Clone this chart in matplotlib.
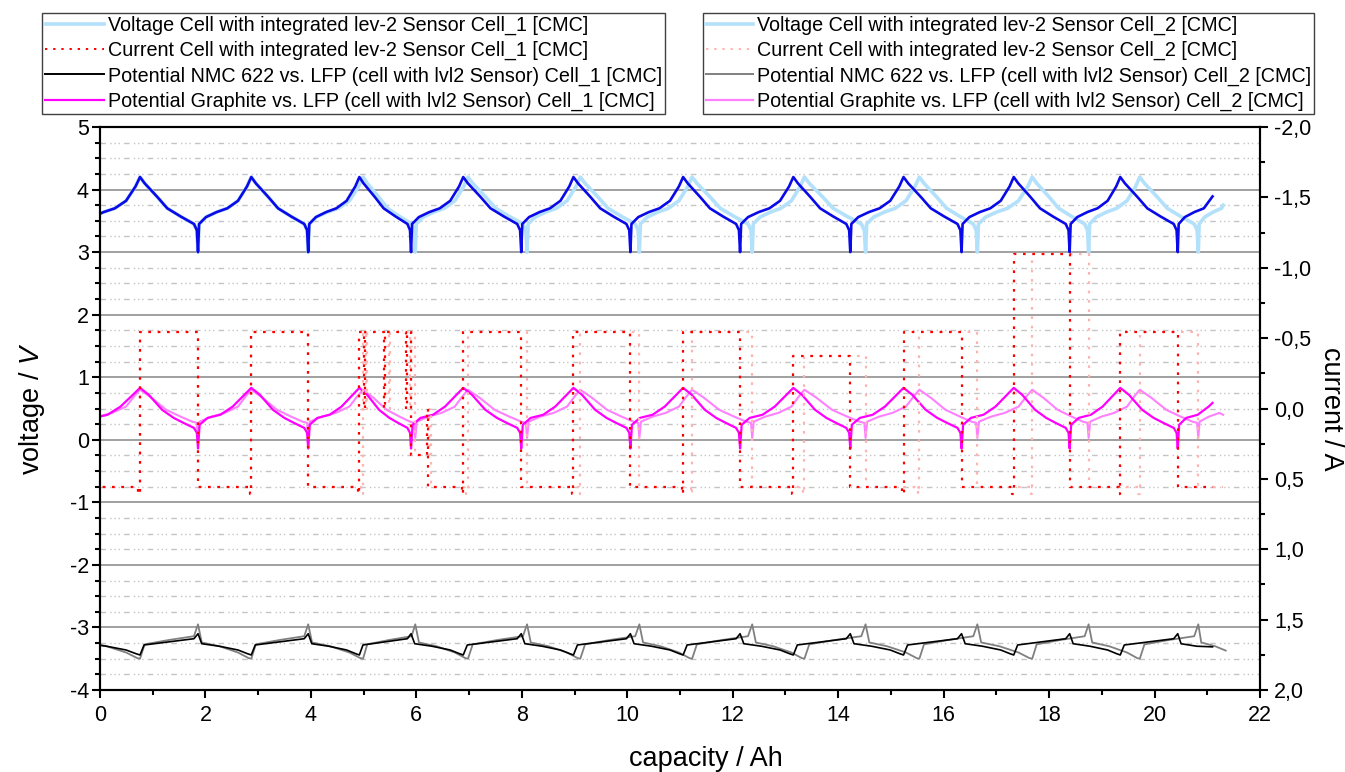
import matplotlib
matplotlib.use('Agg')
import matplotlib.pyplot as plt
from matplotlib.lines import Line2D
from matplotlib.ticker import MultipleLocator, FuncFormatter

plt.rcParams['font.family'] = ['Liberation Sans', 'DejaVu Sans']
plt.rcParams['mathtext.fontset'] = 'custom'
plt.rcParams['mathtext.rm'] = 'Liberation Sans'
plt.rcParams['mathtext.it'] = 'Liberation Sans:italic'
plt.rcParams['axes.unicode_minus'] = False

# turning points of the cycles (Ah): end of charge (4.2 V) and end of discharge (3.0 V)
peaks_c1 = [0.76, 2.87, 4.92, 6.89, 8.98, 11.06, 13.15, 15.24, 17.33, 19.35]
drops_c1 = [1.86, 3.95, 5.90, 7.99, 10.06, 12.14, 14.23, 16.34, 18.39, 20.44]
peaks_c2 = [0.76, 2.87, 4.99, 6.98, 9.11, 11.23, 13.36, 15.54, 17.68, 19.72]
drops_c2 = [1.86, 3.95, 5.98, 8.10, 10.23, 12.37, 14.52, 16.64, 18.75, 20.83]

# shape of a half cycle, s = fraction of the half cycle
volt_ch_s = [0, 0.02, 0.15, 0.35, 0.55, 0.75, 0.92, 1.0]
volt_ch_v = [3.0, 3.45, 3.56, 3.64, 3.70, 3.82, 4.05, 4.2]
volt_dis_s = [0, 0.08, 0.3, 0.47, 0.7, 0.93, 0.98, 1.0]
volt_dis_v = [4.2, 4.1, 3.88, 3.70, 3.57, 3.45, 3.35, 3.0]

gr1_ch_s = [0, 0.03, 0.18, 0.42, 0.65, 0.85, 1.0]
gr1_ch_v = [-0.14, 0.24, 0.35, 0.40, 0.53, 0.70, 0.83]
gr1_dis_s = [0, 0.15, 0.38, 0.58, 0.75, 0.93, 0.98, 1.0]
gr1_dis_v = [0.83, 0.72, 0.48, 0.35, 0.27, 0.19, 0.11, -0.14]

gr2_ch_s = [0, 0.03, 0.25, 0.5, 0.75, 0.9, 1.0]
gr2_ch_v = [0.03, 0.29, 0.37, 0.43, 0.53, 0.70, 0.80]
gr2_dis_s = [0, 0.2, 0.45, 0.7, 0.9, 0.98, 1.0]
gr2_dis_v = [0.80, 0.67, 0.48, 0.37, 0.29, 0.27, 0.03]

nmc1_ch_s = [0, 0.07, 0.4, 0.75, 0.93, 1.0]
nmc1_ch_v = [-3.10, -3.26, -3.30, -3.36, -3.42, -3.44]
nmc1_dis_s = [0, 0.07, 0.5, 0.93, 1.0]
nmc1_dis_v = [-3.44, -3.28, -3.23, -3.18, -3.10]

nmc2_ch_s = [0, 0.07, 0.4, 0.75, 0.95, 1.0]
nmc2_ch_v = [-2.95, -3.24, -3.30, -3.40, -3.49, -3.50]
nmc2_dis_s = [0, 0.08, 0.5, 0.93, 1.0]
nmc2_dis_v = [-3.50, -3.27, -3.20, -3.14, -2.95]

# current steps (start of step in Ah, current in A)
cur1_x = [-0.3, 0.73, 0.76, 1.86, 2.84, 2.87, 3.95, 4.89, 4.92, 5.01, 5.03, 5.39, 5.41,
          5.81, 5.83, 5.90, 6.20, 6.23, 6.86, 6.89, 7.99, 8.95, 8.98, 10.06, 11.03, 11.06,
          12.14, 13.12, 13.15, 14.23, 15.21, 15.24, 16.34, 17.30, 17.33, 18.39, 19.32,
          19.35, 20.44, 21.10]
cur1_i = [0.555, 0.61, -0.545, 0.555, 0.61, -0.545, 0.555, 0.61, -0.545, 0.0, -0.545, 0.0,
          -0.545, 0.0, -0.545, 0.33, 0.0, 0.555, 0.61, -0.545, 0.555, 0.61, -0.545, 0.555,
          0.61, -0.545, 0.555, 0.61, -0.37, 0.555, 0.61, -0.545, 0.555, 0.61, -1.10, 0.555,
          0.61, -0.545, 0.555, 0.555]
cur2_x = [-0.3, 0.73, 0.76, 1.86, 2.84, 2.87, 3.95, 4.96, 4.99, 5.05, 5.07, 5.49, 5.51,
          5.88, 5.90, 5.98, 6.24, 6.27, 6.95, 6.98, 8.10, 9.08, 9.11, 10.23, 11.20, 11.23,
          12.37, 13.33, 13.36, 14.52, 15.51, 15.54, 16.64, 17.65, 17.68, 18.75, 19.69,
          19.72, 20.83, 21.30]
cur2_i = cur1_i

fig = plt.figure(figsize=(13.45, 7.72), dpi=100)
ax = fig.add_axes([0.0743, 0.1062, 0.8625, 0.7293])
ax2 = ax.twinx()


def build(peaks, drops, ch_s, ch_v, dis_s, dis_v, last_len, end_x, end_v):
    xs, ys = [], []
    prev = -0.3
    for p, d in zip(peaks, drops):
        for s, v in zip(ch_s, ch_v):
            xs.append(prev + s * (p - prev))
            ys.append(v)
        for s, v in zip(dis_s, dis_v):
            xs.append(p + s * (d - p))
            ys.append(v)
        prev = d
    for s, v in zip(ch_s, ch_v):
        if prev + s * last_len < end_x:
            xs.append(prev + s * last_len)
            ys.append(v)
    xs.append(end_x)
    ys.append(end_v)
    return xs, ys


x, y = build(peaks_c2, drops_c2, volt_ch_s, volt_ch_v, volt_dis_s, volt_dis_v, 0.8, 21.3, 3.75)
ax.plot(x, y, color='#b3e0fa', lw=2.6)
x, y = build(peaks_c1, drops_c1, volt_ch_s, volt_ch_v, volt_dis_s, volt_dis_v, 0.9, 21.1, 3.89)
ax.plot(x, y, color='#0a0ae8', lw=1.9)
x, y = build(peaks_c2, drops_c2, gr2_ch_s, gr2_ch_v, gr2_dis_s, gr2_dis_v, 0.8, 21.3, 0.40)
ax.plot(x, y, color='#ff80ff', lw=1.5)
x, y = build(peaks_c1, drops_c1, gr1_ch_s, gr1_ch_v, gr1_dis_s, gr1_dis_v, 0.9, 21.1, 0.59)
ax.plot(x, y, color='#ff00ff', lw=1.6)
x, y = build(peaks_c2, drops_c2, nmc2_ch_s, nmc2_ch_v, nmc2_dis_s, nmc2_dis_v, 0.8, 21.35, -3.37)
ax.plot(x, y, color='#808080', lw=1.3)
x, y = build(peaks_c1, drops_c1, nmc1_ch_s, nmc1_ch_v, nmc1_dis_s, nmc1_dis_v, 0.9, 21.1, -3.31)
ax.plot(x, y, color='black', lw=1.2)

ax2.plot(cur2_x, cur2_i, color='#ffb4b4', lw=1.6, ls=(0, (1.2, 3)), drawstyle='steps-post')
ax2.plot(cur1_x, cur1_i, color='#ff0000', lw=1.6, ls=(0, (1.2, 3)), drawstyle='steps-post')

ax.set_xlim(0, 22)
ax.set_ylim(-4, 5)
ax2.set_ylim(2, -2)
ax.xaxis.set_major_locator(MultipleLocator(2))
ax.xaxis.set_minor_locator(MultipleLocator(1))
ax.yaxis.set_major_locator(MultipleLocator(1))
ax.yaxis.set_minor_locator(MultipleLocator(0.25))
ax2.yaxis.set_major_locator(MultipleLocator(0.5))
ax2.yaxis.set_minor_locator(MultipleLocator(0.25))
ax2.yaxis.set_major_formatter(FuncFormatter(lambda v, pos: ('%.1f' % (0 if abs(v) < 1e-9 else v)).replace('.', ',')))

ax.yaxis.grid(True, which='major', color='#a0a0a0', lw=1.4)
ax.yaxis.grid(True, which='minor', color='#c4c4c4', lw=1.0, ls=(0, (4, 3, 1, 2, 1, 2, 1, 3)))
ax.set_axisbelow(True)

for a in (ax, ax2):
    for sp in a.spines.values():
        sp.set_linewidth(1.5)
    a.tick_params(which='major', direction='out', length=6, width=1.5, labelsize=15.5)
    a.tick_params(which='minor', direction='out', length=3.5, width=1.5)
ax.tick_params(axis='y', pad=2)
ax.tick_params(axis='x', pad=5)
ax2.tick_params(axis='y', pad=4)

ax.set_xlabel('capacity / Ah', fontsize=19.5)
ax.xaxis.set_label_coords(0.522, -0.1)
ax.set_ylabel('voltage / $\\it{V}$', fontsize=19.5, labelpad=16)
ax2.set_ylabel('current / A', fontsize=19.5, rotation=-90, labelpad=24)

labels_c1 = ['Voltage Cell with integrated lev-2 Sensor Cell_1 [CMC]',
             'Current Cell with integrated lev-2 Sensor Cell_1 [CMC]',
             'Potential NMC 622 vs. LFP (cell with lvl2 Sensor) Cell_1 [CMC]',
             'Potential Graphite vs. LFP (cell with lvl2 Sensor) Cell_1 [CMC]']
labels_c2 = [t.replace('Cell_1', 'Cell_2') for t in labels_c1]

h1 = [Line2D([], [], color='#b3e0fa', lw=2.6),
      Line2D([], [], color='#ff0000', lw=1.4, ls=(0, (1.2, 3))),
      Line2D([], [], color='black', lw=1.4),
      Line2D([], [], color='#ff00ff', lw=1.6)]
h2 = [Line2D([], [], color='#b3e0fa', lw=2.6),
      Line2D([], [], color='#ffb4b4', lw=1.4, ls=(0, (1.2, 3))),
      Line2D([], [], color='#808080', lw=1.4),
      Line2D([], [], color='#ff80ff', lw=1.6)]

for h, lab, x0, hl in ((h1, labels_c1, 0.0312, 3.0), (h2, labels_c2, 0.5227, 2.4)):
    fig.legend(handles=h, labels=lab, loc='upper left', bbox_to_anchor=(x0, 0.9832),
               fontsize=14.2, frameon=True, fancybox=False, edgecolor='#404040', framealpha=1,
               borderpad=0.15, borderaxespad=0, handlelength=hl, handletextpad=0.2,
               labelspacing=0.3)

fig.savefig('out.png', dpi=100)
